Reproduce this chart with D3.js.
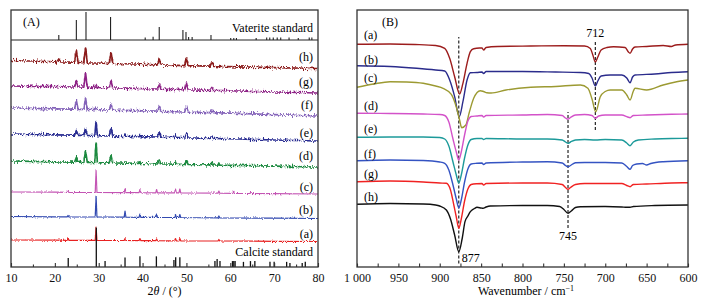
<!DOCTYPE html>
<html>
<head>
<meta charset="utf-8">
<script src="https://cdn.jsdelivr.net/npm/d3@7"></script>
<style>
  body { margin: 0; background: #fff; }
  svg { display: block; font-family: "Liberation Serif", "Times New Roman", serif; }
</style>
</head>
<body>
<svg id="chart" width="710" height="303"></svg>
<script>
// ---------- panel A : XRD (2theta, intensity a.u.) ----------
const vateriteStd = [[20.9,18],[24.9,71],[27.1,100],[32.7,82],[40.6,9],[42.4,12],[43.8,46],[49.2,36],[49.9,29],[50.5,11],[51.3,11],
  [55.6,18],[60.1,7],[60.8,7],[61.4,7],[65.9,7],[68.3,9],[69.0,9],[69.8,9],[70.7,9],[71.5,9],[73.4,9],[75.5,7],[78.0,9],[78.6,9]];
const calciteStd = [[23.05,23],[29.45,100],[31.45,15],[36.0,24],[39.4,27],[43.15,27],[47.15,18],[47.55,25],[48.5,25],
  [56.5,15],[57.0,20],[57.65,15],[60.5,15],[60.8,15],[61.1,15],[63.0,13],[64.6,15],[65.6,15],[69.05,13],[70.0,13],
  [72.85,13],[73.6,10],[76.4,10],[77.1,13]];

const xrdH = [[10,206.5],[14,206],[18,205.5],[20.5,205.2],[20.9,208],[21.3,205.1],[24.5,204.8],[24.9,217],[25.3,204.6],[26.6,204.4],[27.0,220],[27.4,204.2],
  [29,204],[32.4,203.6],[32.8,215],[33.2,203.5],[38,203],[43.4,202.2],[43.8,208],[44.2,202.1],[49.6,201.4],[50.0,209],[50.4,201.3],
  [55.4,200.8],[55.8,205],[56.2,200.7],[62,200.2],[70,199.3],[80,198.5]];
const xrdG = [[10,181],[15,180.7],[20,180.3],[24.5,180],[24.9,186.5],[25.3,179.9],[26.6,179.8],[27.0,194],[27.4,179.7],[29.1,179.6],[29.4,182.5],[29.7,179.5],
  [32.4,179.2],[32.8,186],[33.2,179.1],[38,178.6],[43.4,178],[43.8,183],[44.2,177.9],[49.6,177.3],[50.0,184],[50.4,177.2],
  [55.4,176.7],[55.8,179.5],[56.2,176.6],[62,176],[70,175],[80,174]];
const xrdF = [[10,159],[15,158.6],[20,158.2],[24.5,157.8],[24.9,166.5],[25.3,157.7],[26.6,157.6],[27.0,169],[27.4,157.5],[29.1,157.4],[29.4,160],[29.7,157.3],
  [32.4,157],[32.8,163],[33.2,156.9],[38,156.4],[43.4,155.8],[43.8,160.5],[44.2,155.7],[49.6,155],[50.0,160.5],[50.4,154.9],
  [55.4,154.4],[55.8,157],[56.2,154.3],[62,153.6],[70,152.4],[80,151]];
const xrdE = [[10,133],[15,132.6],[20,132.2],[24.5,131.8],[24.9,136.5],[25.3,131.7],[26.6,131.6],[27.0,138],[27.4,131.5],[29.1,131.4],[29.4,145.5],[29.7,131.3],
  [32.4,131],[32.8,139],[33.2,130.9],[35.8,130.7],[36.0,133],[36.2,130.6],[39.2,130.4],[39.4,132.5],[39.6,130.3],[43.4,130],[43.8,135],[44.2,129.9],
  [47.3,129.6],[47.5,132],[47.7,129.5],[49.6,129.3],[50.0,134],[50.4,129.2],[55.4,128.7],[55.8,131],[56.2,128.6],[62,128],[70,127],[80,126]];
const xrdD = [[10,106],[15,105.6],[20,105.2],[24.5,104.9],[24.9,109.5],[25.3,104.8],[26.6,104.7],[27.0,116],[27.4,104.6],[29.1,104.5],[29.4,125],[29.7,104.4],
  [32.4,104.2],[32.8,111.5],[33.2,104.1],[39.2,103.6],[39.4,105.5],[39.6,103.5],[43.4,103.2],[43.8,107],[44.2,103.1],[47.3,102.8],[47.5,105],[47.7,102.7],
  [49.6,102.6],[50.0,106],[50.4,102.5],[55.4,102.1],[55.8,104.5],[56.2,102],[57.2,101.9],[57.4,104],[57.6,101.9],[62,101.6],[70,100.8],[80,100]];
const xrdC = [[10,75],[20,74.8],[22.8,74.7],[23.0,75.8],[23.2,74.7],[29.2,74.5],[29.4,96.5],[29.6,74.5],[35.8,74.4],[36.0,78],[36.2,74.4],
  [39.2,74.3],[39.4,77.5],[39.6,74.3],[43.0,74.2],[43.2,77.5],[43.4,74.2],[47.3,74.1],[47.5,78],[47.7,74.1],[48.3,74.1],[48.5,78],[48.7,74.1],
  [57.2,73.8],[57.4,76],[57.6,73.8],[60.5,73.7],[60.7,75.5],[60.9,73.7],[64.5,73.5],[64.7,75],[64.9,73.5],[70,73.3],[80,73]];
const xrdB = [[10,50.5],[20,50.2],[22.8,50.1],[23.0,51.5],[23.2,50.1],[29.2,50],[29.4,71],[29.6,50],[35.8,49.8],[36.0,56],[36.2,49.8],
  [39.2,49.7],[39.4,53],[39.6,49.7],[43.0,49.6],[43.2,53],[43.4,49.6],[47.3,49.5],[47.5,52.5],[47.7,49.5],[48.3,49.5],[48.5,52.5],[48.7,49.5],
  [57.2,49.2],[57.4,51],[57.6,49.2],[70,48.8],[80,48.5]];
const xrdA = [[10,27],[20,26.8],[22.8,26.7],[23.0,29.5],[23.2,26.7],[29.2,26.6],[29.4,40],[29.6,26.6],[35.8,26.5],[36.0,28.5],[36.2,26.5],
  [39.2,26.4],[39.4,28.5],[39.6,26.4],[43.0,26.3],[43.2,28],[43.4,26.3],[47.3,26.2],[47.5,28.5],[47.7,26.2],[48.3,26.2],[48.5,28.5],[48.7,26.2],
  [57.2,26],[57.4,27.5],[57.6,26],[70,25.7],[80,25.5]];

const xrdNames = ["(a)","(b)","(c)","(d)","(e)","(f)","(g)","(h)"];
const xrdColors = ["#e82222","#3149b0","#c455b4","#1f8a40","#2a2d92","#8463b9","#8e2386","#8c1c1c"];
const xrdLabelVal = [29, 53, 76, 107, 130, 158, 181, 206];

// ---------- panel B : FTIR (wavenumber, transmittance a.u.) ----------
const irA = [[1000,222.7],[960,223],[930,222.5],[905,221.5],[894,218.7],[888,208.7],[882,190.3],[876,173],[872,183.7],[867,203.7],[863,215.3],[859,218.3],
  [852,219],[849,219],[847,217],[844,219.5],[830,220.5],[790,221],[750,221.3],[725,221],[718,218.5],[715,212],[712,205],[709,210],[705,217],[698,219.5],
  [690,220.3],[676,219.5],[672,215],[670,213.7],[667,218],[664,220],[650,220.5],[630,221.5],[620,220.5],[615,222],[600,222.7]];
const irB = [[1000,201.3],[960,200.5],[928,198.7],[905,197],[894,196],[888,187],[882,170.3],[876.5,150.3],[872,165.3],[867,187],[863,194.3],[855,194.5],
  [849,195],[847,193.5],[844,195.5],[800,195.5],[760,195],[730,194.5],[720,193.5],[716,189],[712,181],[709,186],[705,191],[694,192],[680,192],
  [674,189],[670,184.3],[667,190],[664,192],[640,193],[620,194.5],[600,195.3]];
const irC = [[1000,179.7],[980,183],[960,185.3],[940,185],[920,183.7],[905,181],[896,178.7],[886,172.7],[880,160],[876,147],[873.5,139.3],[868.5,142],
  [864.5,154],[859,168.7],[851,176.3],[847,175.5],[843,174.3],[838,174],[820,177],[790,179.7],[760,180.5],[730,182],[721,178.7],[716,168],[711.5,155.3],
  [706,170.3],[700,175.5],[694,177],[680,177],[674,172],[670,167],[666,176],[664,178.7],[650,177],[630,182],[615,185],[600,187]];
const irD = [[1000,153.7],[960,153.5],[920,153],[900,152.5],[894,151.5],[889,145],[884,128],[880,115],[877,107],[874,115],[870,132],[866,146],[862,150.5],
  [855,151],[849,151.5],[847,150],[844,151.5],[800,152],[770,152.5],[752,151.5],[748,149],[745,147.8],[742,149.5],[736,152],[725,152.5],[716,151.5],
  [712,148.7],[708,151],[700,152],[680,152],[673,150],[670,149.3],[666,151.5],[650,152],[620,152.7],[600,153]];
const irE = [[1000,129.7],[960,130],[920,130],[900,129.5],[894,128],[889,121],[884,105],[880,92],[877,84],[874,92],[870,109],[866,122],[862,127.5],
  [855,128.5],[849,128.5],[847,127.5],[844,128.5],[800,128],[770,128],[752,127],[748,125],[745,123.7],[742,125],[736,127],[725,127.5],[712,127],
  [700,127.5],[680,127],[674,124],[670,121.3],[666,125],[660,127],[640,128],[620,128.5],[600,128.7]];
const irF = [[1000,106.3],[960,107],[920,106.5],[900,105],[894,103.7],[889,97],[884,82],[880,68],[877,59],[874,67],[870,85],[866,98],[862,103],
  [855,103.7],[849,104],[847,102.5],[844,104],[800,105],[770,105.3],[752,104],[748,101.5],[745,100.3],[742,101.5],[736,104.3],[725,104.5],[700,104.5],
  [680,104],[674,100.5],[670,97.7],[667,101.5],[662,103],[655,103.5],[650,102],[645,103.5],[630,105.3],[600,106.3]];
const irG = [[1000,85.3],[960,86],[920,85],[900,84],[892,83.7],[887,77],[883,62],[880,50],[877,38.7],[874,48],[870,66],[866,78],[862,82.5],
  [855,83.3],[849,83.5],[847,82],[844,83.5],[800,84],[770,84],[752,82.5],[748,79.5],[745,77.7],[742,79.5],[736,82.5],[725,83.5],[700,83.5],
  [680,83.5],[674,81.5],[670,80.3],[666,82.5],[650,83],[620,84],[600,84.3]];
const irH = [[1000,62.7],[960,63.5],[920,63],[905,62],[900,61],[892,57],[887,48],[882,32],[877,15.3],[873,28],[869.5,45.3],[866,51],[863,55.3],
  [858,58.5],[855,59.7],[850,59],[847.7,58.7],[844,60],[839,61],[800,61.5],[770,61.5],[755,60.5],[750,57.5],[745,53.7],[741,56],[736,59.5],
  [730,60.3],[700,60.5],[680,60],[674,59.7],[670,59.7],[666,60.5],[640,61.5],[600,62]];

const irNames = ["(a)","(b)","(c)","(d)","(e)","(f)","(g)","(h)"];
const irColors = ["#9c1c1c","#2b2c8c","#9c9a32","#d352c9","#1c9a9a","#3453c2","#f02222","#111111"];
const irLabelVal = [228.5, 203, 185, 157, 134, 109, 89, 66];
// marked bands: wavenumber, label, dashed span (a.u.), label position (a.u.)
const irMarks = [
  { wn: 877, text: "877", from: 3.5, to: 230, at: 5, side: "right" },
  { wn: 712, text: "712", from: 137, to: 227, at: 230, side: "top" },
  { wn: 745, text: "745", from: 39, to: 155, at: 27, side: "bottom" }
];

// ---------- layout ----------
const svg = d3.select("#chart");
const fontSize = 12;
const A = { left: 11, right: 318, top: 10, bottom: 267 };
const B = { left: 357, right: 688, top: 10, bottom: 267 };

// measurement noise look of the XRD traces (vertical jitter only)
const defs = svg.append("defs");
function noiseFilter(id, scale, seed) {
  const f = defs.append("filter").attr("id", id)
    .attr("filterUnits", "userSpaceOnUse").attr("x", 0).attr("y", 0).attr("width", 710).attr("height", 303);
  f.append("feTurbulence").attr("type", "fractalNoise").attr("baseFrequency", "0.9 0.3")
    .attr("numOctaves", 2).attr("seed", seed).attr("result", "t0");
  const ct = f.append("feComponentTransfer").attr("in", "t0").attr("result", "t");
  ct.append("feFuncG").attr("type", "linear").attr("slope", 0).attr("intercept", 0.5);
  f.append("feDisplacementMap").attr("in", "SourceGraphic").attr("in2", "t")
    .attr("scale", scale).attr("xChannelSelector", "G").attr("yChannelSelector", "R");
}
noiseFilter("nzStrong", 6, 3);
noiseFilter("nzWeak", 3, 7);

// ===== Panel A =====
const xA = d3.scaleLinear().domain([10, 80]).range([A.left, A.right]);
const yA = d3.scaleLinear().domain([0, 257]).range([A.bottom, A.top]);
const yVat = d3.scaleLinear().domain([0, 100]).range([40, 12]);
const yCal = d3.scaleLinear().domain([0, 100]).range([A.bottom, 227.5]);

const gA = svg.append("g");
const lineA = d3.line().x(d => xA(d[0])).y(d => yA(d[1]));
const xrdSeries = [xrdA, xrdB, xrdC, xrdD, xrdE, xrdF, xrdG, xrdH];

xrdSeries.forEach((s, i) => {
  const strong = i >= 3;
  gA.append("path")
    .datum(s)
    .attr("d", lineA)
    .attr("fill", "none")
    .attr("stroke", xrdColors[i])
    .attr("stroke-width", strong ? 1.7 : 1.2)
    .attr("stroke-linejoin", "round")
    .attr("filter", strong ? "url(#nzStrong)" : "url(#nzWeak)");
  gA.append("text")
    .attr("x", A.right - 5)
    .attr("y", yA(xrdLabelVal[i]))
    .attr("text-anchor", "end")
    .style("font-size", fontSize + "px")
    .text(xrdNames[i]);
});

// vaterite standard sticks
gA.append("line").attr("x1", A.left).attr("x2", A.right).attr("y1", yVat(0)).attr("y2", yVat(0))
  .attr("stroke", "#222").attr("stroke-width", 1.1);
gA.selectAll(".vat").data(vateriteStd).enter().append("line")
  .attr("x1", d => xA(d[0])).attr("x2", d => xA(d[0]))
  .attr("y1", yVat(0)).attr("y2", d => yVat(d[1]))
  .attr("stroke", "#222").attr("stroke-width", 1.1);
gA.selectAll(".cal").data(calciteStd).enter().append("line")
  .attr("x1", d => xA(d[0])).attr("x2", d => xA(d[0]))
  .attr("y1", yCal(0)).attr("y2", d => yCal(d[1]))
  .attr("stroke", "#111").attr("stroke-width", 1.3);

gA.append("text").attr("x", A.right - 5).attr("y", 32).attr("text-anchor", "end")
  .style("font-size", fontSize + "px").text("Vaterite standard");
gA.append("text").attr("x", A.right - 5).attr("y", 256).attr("text-anchor", "end")
  .style("font-size", fontSize + "px").text("Calcite standard");
gA.append("text").attr("x", 23).attr("y", 26).style("font-size", fontSize + "px").text("(A)");

// axis A
gA.append("g").attr("transform", `translate(0,${A.bottom})`)
  .call(d3.axisBottom(xA).tickValues(d3.range(10, 81, 10)).tickSizeInner(-4).tickSizeOuter(0).tickPadding(6));
gA.append("g").attr("transform", `translate(0,${A.bottom})`)
  .call(d3.axisBottom(xA).tickValues(d3.range(15, 80, 10)).tickSizeInner(-2.5).tickSizeOuter(0).tickFormat(""));

const xTitleA = gA.append("text").attr("x", (A.left + A.right) / 2).attr("y", 295)
  .attr("text-anchor", "middle").style("font-size", fontSize + "px");
xTitleA.append("tspan").text("2");
xTitleA.append("tspan").style("font-style", "italic").text("θ");
xTitleA.append("tspan").text(" / (°)");

gA.append("rect").attr("x", A.left).attr("y", A.top)
  .attr("width", A.right - A.left).attr("height", A.bottom - A.top)
  .attr("fill", "none").attr("stroke", "#333").attr("stroke-width", 1.3);

// ===== Panel B =====
const xB = d3.scaleLinear().domain([1000, 600]).range([B.left, B.right]);
const yB = d3.scaleLinear().domain([0, 257]).range([B.bottom, B.top]);
const gB = svg.append("g");
const lineB = d3.line().x(d => xB(d[0])).y(d => yB(d[1])).curve(d3.curveMonotoneX);
const irSeries = [irA, irB, irC, irD, irE, irF, irG, irH];

irMarks.forEach(m => {
  gB.append("line")
    .attr("x1", xB(m.wn)).attr("x2", xB(m.wn))
    .attr("y1", yB(m.from)).attr("y2", yB(m.to))
    .attr("stroke", "#111").attr("stroke-width", 1.1).attr("stroke-dasharray", "3,2");
});

irSeries.forEach((s, i) => {
  gB.append("path")
    .datum(s)
    .attr("d", lineB)
    .attr("fill", "none")
    .attr("stroke", irColors[i])
    .attr("stroke-width", 1.4);
  gB.append("text")
    .attr("x", 364)
    .attr("y", yB(irLabelVal[i]))
    .style("font-size", fontSize + "px")
    .text(irNames[i]);
});

irMarks.forEach(m => {
  gB.append("text")
    .attr("x", m.side === "right" ? xB(m.wn) + 3 : xB(m.wn))
    .attr("y", yB(m.at))
    .attr("text-anchor", m.side === "right" ? "start" : "middle")
    .style("font-size", fontSize + "px")
    .text(m.text);
});

gB.append("text").attr("x", 382).attr("y", 26).style("font-size", fontSize + "px").text("(B)");

gB.append("g").attr("transform", `translate(0,${B.bottom})`)
  .call(d3.axisBottom(xB).tickValues(d3.range(1000, 599, -50)).tickSizeInner(-3.5).tickSizeOuter(0).tickPadding(6)
    .tickFormat(d => d === 1000 ? "1 000" : d));
gB.append("g").attr("transform", `translate(0,${B.bottom})`)
  .call(d3.axisBottom(xB).tickValues(d3.range(975, 600, -50)).tickSizeInner(-3.5).tickSizeOuter(0).tickFormat(""));

const xTitleB = gB.append("text").attr("x", 526).attr("y", 295)
  .attr("text-anchor", "middle").style("font-size", fontSize + "px");
xTitleB.append("tspan").text("Wavenumber / cm");
xTitleB.append("tspan").attr("dy", -4).style("font-size", "8px").text("−1");

gB.append("rect").attr("x", B.left).attr("y", B.top)
  .attr("width", B.right - B.left).attr("height", B.bottom - B.top)
  .attr("fill", "none").attr("stroke", "#333").attr("stroke-width", 1.3);

// axis styling
svg.selectAll(".domain").remove();
svg.selectAll(".tick line").attr("stroke", "#333").attr("stroke-width", 1.1);
svg.selectAll(".tick text").style("font-size", fontSize + "px").style("font-family", "'Liberation Serif', serif").attr("fill", "#111");
</script>
</body>
</html>
